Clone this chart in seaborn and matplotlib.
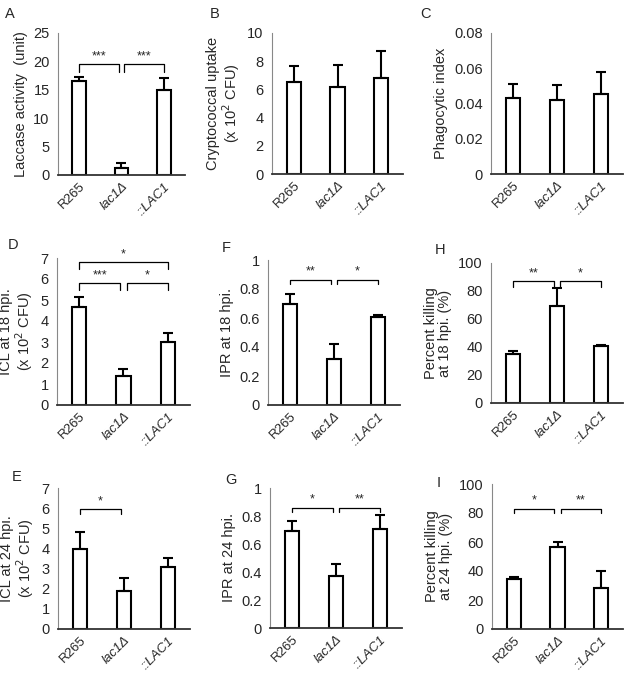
import numpy as np
import pandas as pd
import matplotlib
matplotlib.use("Agg")
import matplotlib.pyplot as plt
import seaborn as sns

sns.set_style("white")
plt.rcParams['font.family'] = ['Liberation Sans', 'DejaVu Sans']

strains = ["R265", "lac1\u0394", "::LAC1"]

# valores (media, error superior)
laccase = [16.6, 1.2, 15.0]
laccase_err = [0.7, 1.0, 2.1]
uptake = [6.5, 6.15, 6.8]
uptake_err = [1.15, 1.55, 1.9]
phago = [0.043, 0.042, 0.0453]
phago_err = [0.008, 0.0085, 0.0125]
icl18 = [4.67, 1.4, 3.02]
icl18_err = [0.45, 0.3, 0.4]
ipr18 = [0.695, 0.32, 0.605]
ipr18_err = [0.07, 0.1, 0.015]
kill18 = [35.0, 69.0, 41.0]
kill18_err = [2.5, 13.0, 0.6]
icl24 = [3.97, 1.87, 3.1]
icl24_err = [0.85, 0.65, 0.42]
ipr24 = [0.69, 0.37, 0.705]
ipr24_err = [0.075, 0.09, 0.1]
kill24 = [34.5, 56.5, 28.5]
kill24_err = [1.2, 3.7, 11.5]

# (etiqueta, valores, errores, ylabel, yticks, brackets, caja en pixeles izq, der, arriba, abajo, posicion letra)
panels = [
    ("A", laccase, laccase_err, "Laccase activity  (unit)", [0, 5, 10, 15, 20, 25],
     [(0, 0.93, 19.5, 18.2, "***"), (1.07, 2, 19.5, 18.2, "***")], (58, 185, 33, 175), (5, 14)),
    ("B", uptake, uptake_err, "Cryptococcal uptake\n(x 10$^2$ CFU)", [0, 2, 4, 6, 8, 10],
     [], (272, 403, 33, 174), (210, 14)),
    ("C", phago, phago_err, "Phagocytic index", [0, 0.02, 0.04, 0.06, 0.08],
     [], (491, 623, 33, 174), (420, 14)),
    ("D", icl18, icl18_err, "ICL at 18 hpi.\n(x 10$^2$ CFU)", [0, 1, 2, 3, 4, 5, 6, 7],
     [(0, 0.93, 5.8, 5.5, "***"), (1.07, 2, 5.8, 5.5, "*"), (0, 2, 6.8, 6.5, "*")],
     (57, 190, 258, 405), (8, 245)),
    ("F", ipr18, ipr18_err, "IPR at 18 hpi.", [0, 0.2, 0.4, 0.6, 0.8, 1],
     [(0, 0.93, 0.865, 0.835, "**"), (1.07, 2, 0.865, 0.835, "*")],
     (268, 400, 260, 405), (222, 248)),
    ("H", kill18, kill18_err, "Percent killing\nat 18 hpi. (%)", [0, 20, 40, 60, 80, 100],
     [(0, 0.93, 87, 83, "**"), (1.07, 2, 87, 83, "*")],
     (491, 623, 263, 403), (435, 250)),
    ("E", icl24, icl24_err, "ICL at 24 hpi.\n(x 10$^2$ CFU)", [0, 1, 2, 3, 4, 5, 6, 7],
     [(0, 0.93, 5.95, 5.7, "*")], (58, 190, 488, 629), (12, 477)),
    ("G", ipr24, ipr24_err, "IPR at 24 hpi.", [0, 0.2, 0.4, 0.6, 0.8, 1],
     [(0, 0.93, 0.86, 0.83, "*"), (1.07, 2, 0.86, 0.83, "**")],
     (270, 402, 488, 628), (225, 480)),
    ("I", kill24, kill24_err, "Percent killing\nat 24 hpi. (%)", [0, 20, 40, 60, 80, 100],
     [(0, 0.93, 83, 80, "*"), (1.07, 2, 83, 80, "**")],
     (492, 623, 484, 629), (437, 483)),
]

W, H = 625, 673
fig = plt.figure(figsize=(W / 100, H / 100), dpi=100)
fs = 10.5

for letter, vals, errs, ylabel, yticks, brackets, box, lpos in panels:
    x0, x1, y0, y1 = box
    ax = fig.add_axes([x0 / W, 1 - y1 / H, (x1 - x0) / W, (y1 - y0) / H])
    df = pd.DataFrame({"strain": strains, "value": vals})
    sns.barplot(data=df, x="strain", y="value", ax=ax, color="white",
                edgecolor="black", linewidth=1.5, width=0.33, errorbar=None)
    ax.errorbar(range(3), vals, yerr=[np.zeros(3), errs], fmt="none",
                ecolor="black", elinewidth=1.5, capsize=3.5, capthick=1.5)
    ax.set_xlim(-0.5, 2.5)
    ax.set_ylim(0, yticks[-1])
    ax.set_yticks(yticks)
    ax.set_yticklabels([f"{t:g}" for t in yticks], fontsize=fs)
    ax.set_xlabel("")
    ax.set_ylabel(ylabel, fontsize=fs, labelpad=4, linespacing=1.0)
    ax.set_xticks([0, 1, 2])
    ax.set_xticklabels(strains, rotation=45, ha="right", rotation_mode="anchor", fontsize=9.5)
    for i, t in enumerate(ax.get_xticklabels()):
        if i > 0:
            t.set_fontstyle("italic")
    ax.set_xticks([-0.5, 0.5, 1.5, 2.5], minor=True)
    ax.tick_params(axis="x", which="major", length=0, pad=4)
    ax.tick_params(axis="x", which="minor", length=4, width=1, color="#555555", direction="out")
    ax.tick_params(axis="y", length=4, width=1, color="#888888", direction="out", pad=2)
    sns.despine(ax=ax)
    ax.spines["left"].set_color("#888888")
    ax.spines["bottom"].set_color("#333333")
    ax.spines["bottom"].set_linewidth(1.3)
    for a, b, top, low, stars in brackets:
        ax.plot([a, a, b, b], [low, top, top, low], color="black", lw=0.9, clip_on=False)
        ax.text((a + b) / 2, top + yticks[-1] * 0.012, stars, ha="center", va="bottom", fontsize=9)
    fig.text(lpos[0] / W, 1 - lpos[1] / H, letter, fontsize=10.5, va="center", ha="left")

plt.savefig("out.png", dpi=100)
